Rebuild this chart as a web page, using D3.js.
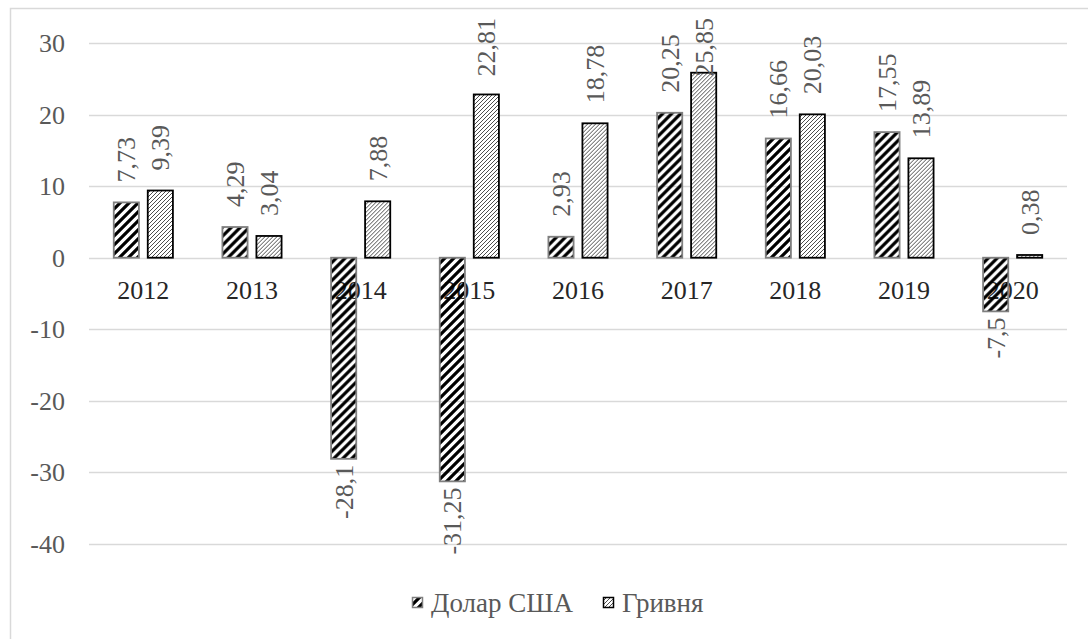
<!DOCTYPE html>
<html>
<head>
<meta charset="utf-8">
<script src="https://cdn.jsdelivr.net/npm/d3@7"></script>
<style>
  html, body { margin: 0; padding: 0; background: #fff; }
  svg { display: block; }
  text { font-family: "Liberation Serif", "Times New Roman", serif; }
</style>
</head>
<body>
<svg id="chart" width="1088" height="639"></svg>
<script>
const years = ["2012", "2013", "2014", "2015", "2016", "2017", "2018", "2019", "2020"];
const seriesKeys = ["usd", "uah"];
const seriesNames = ["Долар США", "Гривня"];
const usdValues = [7.73, 4.29, -28.1, -31.25, 2.93, 20.25, 16.66, 17.55, -7.5];
const uahValues = [9.39, 3.04, 7.88, 22.81, 18.78, 25.85, 20.03, 13.89, 0.38];
const yTicks = [30, 20, 10, 0, -10, -20, -30, -40];

const W = 1088, H = 639;
const svg = d3.select("#chart");

const rows = years.map((y, i) => ({ year: y, usd: usdValues[i], uah: uahValues[i] }));

const x0 = d3.scaleBand().domain(years).range([89, 1067]).padding(0);
const y = d3.scaleLinear().domain([-40, 30]).range([544, 43]);

// patterns
const defs = svg.append("defs");
const pUsd = defs.append("pattern").attr("id", "pUsd")
  .attr("patternUnits", "userSpaceOnUse").attr("width", 9).attr("height", 9);
pUsd.append("path").attr("d", "M0,9 L9,0 M-3,3 L3,-3 M6,12 L12,6")
  .attr("stroke", "#000").attr("stroke-width", 3.2);
const pUah = defs.append("pattern").attr("id", "pUah")
  .attr("patternUnits", "userSpaceOnUse").attr("width", 4).attr("height", 4);
pUah.append("rect").attr("width", 4).attr("height", 4).attr("fill", "#fff");
pUah.append("path").attr("d", "M0,4 L4,0 M-1,1 L1,-1 M3,5 L5,3")
  .attr("stroke", "#000").attr("stroke-width", 0.7);

const fills = { usd: "url(#pUsd)", uah: "url(#pUah)" };
const strokes = { usd: "#7f7f7f", uah: "#000" };

// outer border
svg.append("rect").attr("x", 10.5).attr("y", 8.5).attr("width", W + 20).attr("height", H + 20)
  .attr("fill", "none").attr("stroke", "#d9d9d9").attr("stroke-width", 1.5);

// gridlines
svg.append("g").selectAll("line").data(yTicks).join("line")
  .attr("x1", 89).attr("x2", 1067)
  .attr("y1", d => Math.round(y(d)) + 0.5).attr("y2", d => Math.round(y(d)) + 0.5)
  .attr("stroke", "#d9d9d9").attr("stroke-width", 1.3);

// y tick labels
svg.append("g").selectAll("text").data(yTicks).join("text")
  .attr("x", 65).attr("y", d => y(d) + 9)
  .attr("text-anchor", "end")
  .attr("font-size", 26).attr("fill", "#595959")
  .text(d => d);

// category labels (drawn under bars)
svg.append("g").selectAll("text").data(years).join("text")
  .attr("x", d => x0(d) + x0.bandwidth() / 2)
  .attr("y", y(0) + 41)
  .attr("text-anchor", "middle")
  .attr("font-size", 26).attr("fill", "#262626")
  .text(d => d);

// bars
const bw = x0.bandwidth();
const x1 = d3.scaleBand().domain(seriesKeys).range([bw / 2 - 34, bw / 2 + 34])
  .paddingInner(0.26).paddingOuter(0.13);

const groups = svg.append("g").selectAll("g").data(rows).join("g")
  .attr("transform", d => `translate(${x0(d.year)},0)`);

groups.selectAll("rect").data(d => seriesKeys.map(k => ({ key: k, value: d[k] }))).join("rect")
  .attr("x", d => x1(d.key))
  .attr("width", x1.bandwidth())
  .attr("y", d => y(Math.max(0, d.value)))
  .attr("height", d => Math.abs(y(d.value) - y(0)))
  .attr("fill", d => fills[d.key])
  .attr("stroke", d => strokes[d.key])
  .attr("stroke-width", 1.8);

// value labels
const fmt = v => String(v).replace(".", ",");
const labelSize = 26;
groups.selectAll("text.val").data(d => seriesKeys.map(k => ({ key: k, value: d[k] }))).join("text")
  .attr("class", "val")
  .attr("font-size", labelSize).attr("fill", "#595959")
  .attr("text-anchor", d => d.value >= 0 ? "start" : "end")
  .text(d => fmt(d.value))
  .attr("transform", function (d) {
    const cx = x1(d.key) + x1.bandwidth() / 2 + 9;
    let py;
    if (d.value >= 0) {
      const len = this.getComputedTextLength();
      py = y(d.value) - 20;
      if (py - len < 18) py = 18 + len;
    } else {
      py = y(d.value) + 6;
    }
    return `translate(${cx},${py}) rotate(-90)`;
  });

// legend
const legend = svg.append("g");
const legendItems = [
  { key: "usd", name: seriesNames[0], x: 412 },
  { key: "uah", name: seriesNames[1], x: 603 }
];
legendItems.forEach(it => {
  legend.append("rect").attr("x", it.x + 0.5).attr("y", 597.5).attr("width", 10).attr("height", 10)
    .attr("fill", fills[it.key]).attr("stroke", strokes[it.key]).attr("stroke-width", 1.5);
  legend.append("text").attr("x", it.x + 19).attr("y", 612)
    .attr("font-size", 27).attr("fill", "#595959").text(it.name);
});
</script>
</body>
</html>
